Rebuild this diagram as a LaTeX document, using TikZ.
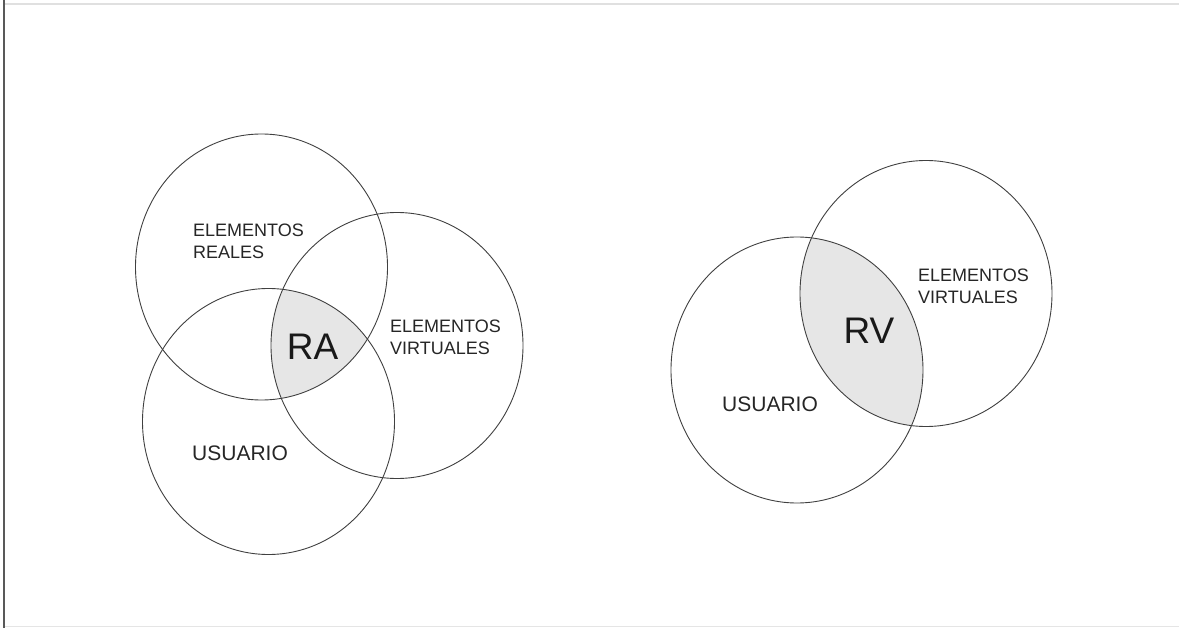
\documentclass[tikz,border=0pt]{standalone}
\usepackage{fontspec}
\setmainfont{Liberation Sans}
\usetikzlibrary{shapes.geometric}
\definecolor{linec}{HTML}{404040}
\definecolor{lensgray}{HTML}{E6E6E6}
\begin{document}
\begin{tikzpicture}[x=1pt,y=-1pt,
  circ/.style={ellipse, draw=linec, line width=0.9pt, minimum width=252pt, minimum height=266pt, inner sep=0pt},
  lbl/.style={font=\fontsize{18}{21.5}\selectfont, align=left, anchor=west, inner sep=0pt, text=black!85},
  ulbl/.style={lbl, font=\fontsize{21}{24}\selectfont},
  big/.style={font=\fontsize{37}{40}\selectfont, inner sep=0pt, text=black!90}]
\useasboundingbox (0,0) rectangle (1179,628);
\fill[white] (0,0) rectangle (1179,628);
% frame
\draw[line width=2pt, draw=black!65] (4,0) -- (4,628);
\draw[line width=1.2pt, draw=black!12] (5,4) -- (1179,4);
\draw[line width=1pt, draw=black!10] (5,626.5) -- (1179,626.5);
% shaded intersections
\begin{scope}
  \clip (261.5,267) ellipse [x radius=126, y radius=133];
  \clip (397,345.5) ellipse [x radius=126, y radius=133];
  \fill[lensgray] (268.5,421.5) ellipse [x radius=126, y radius=133];
\end{scope}
\begin{scope}
  \clip (797,370) ellipse [x radius=126, y radius=133];
  \fill[lensgray] (926,293.5) ellipse [x radius=126, y radius=133];
\end{scope}
% circles
\node[circ] (reales) at (261.5,267) {};
\node[circ] (virt1) at (397,345.5) {};
\node[circ] (usu1) at (268.5,421.5) {};
\node[circ] (usu2) at (797,370) {};
\node[circ] (virt2) at (926,293.5) {};
% labels
\node[lbl] (lreales) at (193,241.5) {ELEMENTOS\\REALES};
\node[lbl] (lvirt1) at (390,337.5) {ELEMENTOS\\VIRTUALES};
\node[ulbl] (lusu1) at (192,453) {USUARIO};
\node[lbl] (lvirt2) at (918,286.5) {ELEMENTOS\\VIRTUALES};
\node[ulbl] (lusu2) at (722,404) {USUARIO};
\node[big] (ra) at (312.5,347) {RA};
\node[big] (rv) at (869,331) {RV};
\end{tikzpicture}
\end{document}
